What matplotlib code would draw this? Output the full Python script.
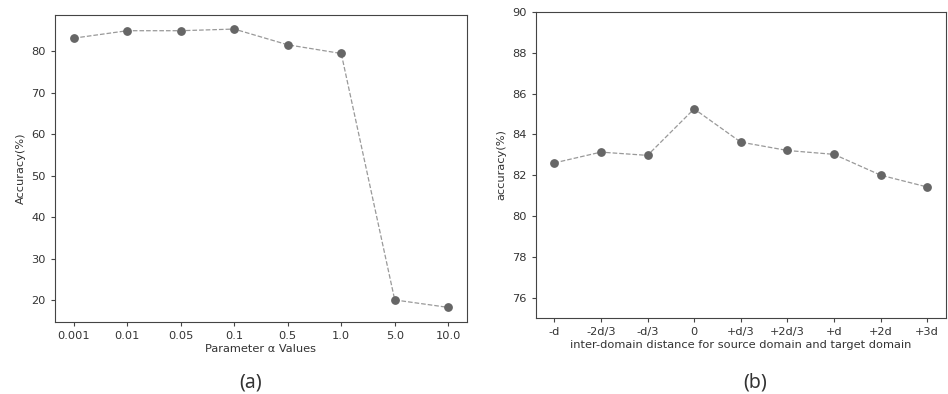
import matplotlib.pyplot as plt

alpha_labels = ["0.001", "0.01", "0.05", "0.1", "0.5", "1.0", "5.0", "10.0"]
alpha_acc = [83.2, 85.0, 85.0, 85.4, 81.6, 79.5, 20.0, 18.2]

dist_labels = ["-d", "-2d/3", "-d/3", "0", "+d/3", "+2d/3", "+d", "+2d", "+3d"]
dist_acc = [82.6, 83.13, 82.97, 85.25, 83.62, 83.21, 83.02, 82.0, 81.42]

fs = 8.2
txt = "#333333"

fig = plt.figure(figsize=(9.48, 3.94), dpi=100)
ax1 = fig.add_axes([0.058, 0.183, 0.4346, 0.779])
ax2 = fig.add_axes([0.565, 0.193, 0.4328, 0.7766])


def style(ax):
    for s in ax.spines.values():
        s.set_color("#444444")
        s.set_linewidth(0.8)
    ax.tick_params(labelsize=fs, colors="#444444", labelcolor=txt, length=3)


x1 = range(len(alpha_labels))
ax1.plot(x1, alpha_acc, linestyle="--", color="#999999", linewidth=0.9, zorder=1)
ax1.scatter(x1, alpha_acc, s=28, color="#666666", zorder=2)
ax1.set_xticks(list(x1))
ax1.set_xticklabels(alpha_labels)
ax1.set_xlabel("Parameter α Values", fontsize=fs, color=txt, labelpad=2)
ax1.set_ylabel("Accuracy(%)", fontsize=fs, color=txt, labelpad=4)
ax1.set_ylim(14.7, 88.8)
style(ax1)

x2 = range(len(dist_labels))
ax2.plot(x2, dist_acc, linestyle="--", color="#999999", linewidth=0.9, zorder=1)
ax2.scatter(x2, dist_acc, s=28, color="#666666", zorder=2)
ax2.set_xticks(list(x2))
ax2.set_xticklabels(dist_labels)
ax2.set_xlabel("inter-domain distance for source domain and target domain",
               fontsize=fs, color=txt, labelpad=2)
ax2.set_ylabel("accuracy(%)", fontsize=fs, color=txt, labelpad=4)
ax2.set_ylim(75, 90)
ax2.set_yticks([76, 78, 80, 82, 84, 86, 88, 90])
style(ax2)

fig.text(0.264, 0.028, "(a)", fontsize=14, color=txt, ha="center", va="center",
         family=["Noto Sans", "DejaVu Sans"], fontweight="light")
fig.text(0.797, 0.028, "(b)", fontsize=14, color=txt, ha="center", va="center",
         family=["Noto Sans", "DejaVu Sans"], fontweight="light")

fig.savefig("out.png", dpi=100)
